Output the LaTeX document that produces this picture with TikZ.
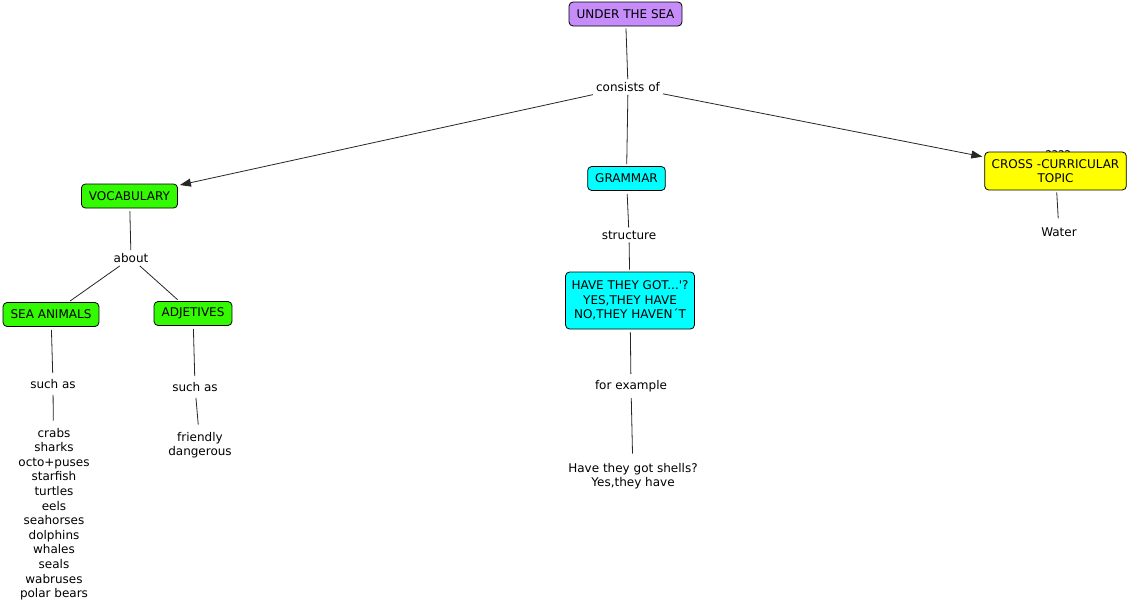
\documentclass[tikz,border=0pt]{standalone}
\usepackage{fontspec}
\setmainfont{DejaVu Sans}
\usetikzlibrary{arrows.meta}
\definecolor{cpurple}{RGB}{197,140,250}
\definecolor{cgreen}{RGB}{51,250,0}
\definecolor{ccyan}{RGB}{0,255,255}
\definecolor{cyellow}{RGB}{255,255,0}
\tikzset{
  every node/.style={font=\fontsize{12}{14.6}\selectfont, align=center},
  box/.style={draw=black, line width=0.8pt, rounded corners=4pt, inner xsep=7.5pt, inner ysep=4pt, minimum height=24pt},
  lbl/.style={inner sep=3pt},
  plain/.style={inner xsep=4pt, inner ysep=7pt},
  conn/.style={line width=0.8pt, draw=black!85},
  arr/.style={conn, -{Triangle[length=11pt,width=8pt]}, shorten >=2pt},
}
\begin{document}
\begin{tikzpicture}[x=1pt,y=-1pt]
\useasboundingbox[fill=white] (0,0) rectangle (1132,611);
% label above cross box, mostly hidden by it
\node[lbl] (q) at (1058,155) {????};
% concepts
\node[box, fill=cpurple] (sea) at (625.5,14) {UNDER THE SEA};
\node[box, fill=cgreen] (voc) at (129.5,196) {VOCABULARY};
\node[box, fill=ccyan] (gram) at (626.5,178.5) {GRAMMAR};
\node[box, fill=cyellow, minimum height=38pt, inner xsep=7pt] (cross) at (1055.5,171) {CROSS -CURRICULAR\\TOPIC};
\node[box, fill=ccyan, minimum height=57pt, inner xsep=6pt] (have) at (630,300.5) {HAVE THEY GOT...\textquotesingle?\\YES,THEY HAVE\\NO,THEY HAVEN´T};
\node[box, fill=cgreen] (anim) at (51,314.5) {SEA ANIMALS};
\node[box, fill=cgreen] (adj) at (193,313.5) {ADJETIVES};
\node[plain, inner ysep=9pt] (water) at (1059,232) {Water};
\node[plain, inner ysep=9pt] (shells) at (633,476) {Have they got shells?\\Yes,they have};
\node[plain, inner ysep=7pt] (list) at (54,514) {crabs\\sharks\\octo+puses\\starfish\\turtles\\eels\\seahorses\\dolphins\\whales\\seals\\wabruses\\polar bears};
\node[plain, inner ysep=7pt] (friend) at (200,445) {friendly\\dangerous};
% linking phrases
\node[lbl] (cons) at (628,87) {consists of};
\node[lbl] (about) at (131,258) {about};
\node[lbl, inner ysep=6pt] (such1) at (53,384) {such as};
\node[lbl, inner ysep=6pt] (such2) at (195,387) {such as};
\node[lbl] (struct) at (629,235) {structure};
\node[lbl, inner ysep=6pt] (forex) at (631,386) {for example};
% connectors
\draw[conn, shorten <=2pt] (sea) -- (cons);
\draw[arr] (cons) -- (voc);
\draw[conn, shorten >=2pt] (cons) -- (gram);
\draw[arr] (cons) -- (cross);
\draw[conn, shorten <=2pt] (cross) -- (water);
\draw[conn, shorten <=3pt] (voc) -- (about);
\draw[conn, shorten >=2pt] (about) -- (anim);
\draw[conn, shorten >=2pt] (about) -- (adj);
\draw[conn, shorten <=3pt] (anim) -- (such1);
\draw[conn] (such1) -- (list);
\draw[conn, shorten <=3pt] (adj) -- (such2);
\draw[conn] (such2) -- (friend);
\draw[conn, shorten <=3pt] (gram) -- (struct);
\draw[conn, shorten >=2pt] (struct) -- (have);
\draw[conn, shorten <=3pt] (have) -- (forex);
\draw[conn] (forex) -- (shells);
\end{tikzpicture}
\end{document}
